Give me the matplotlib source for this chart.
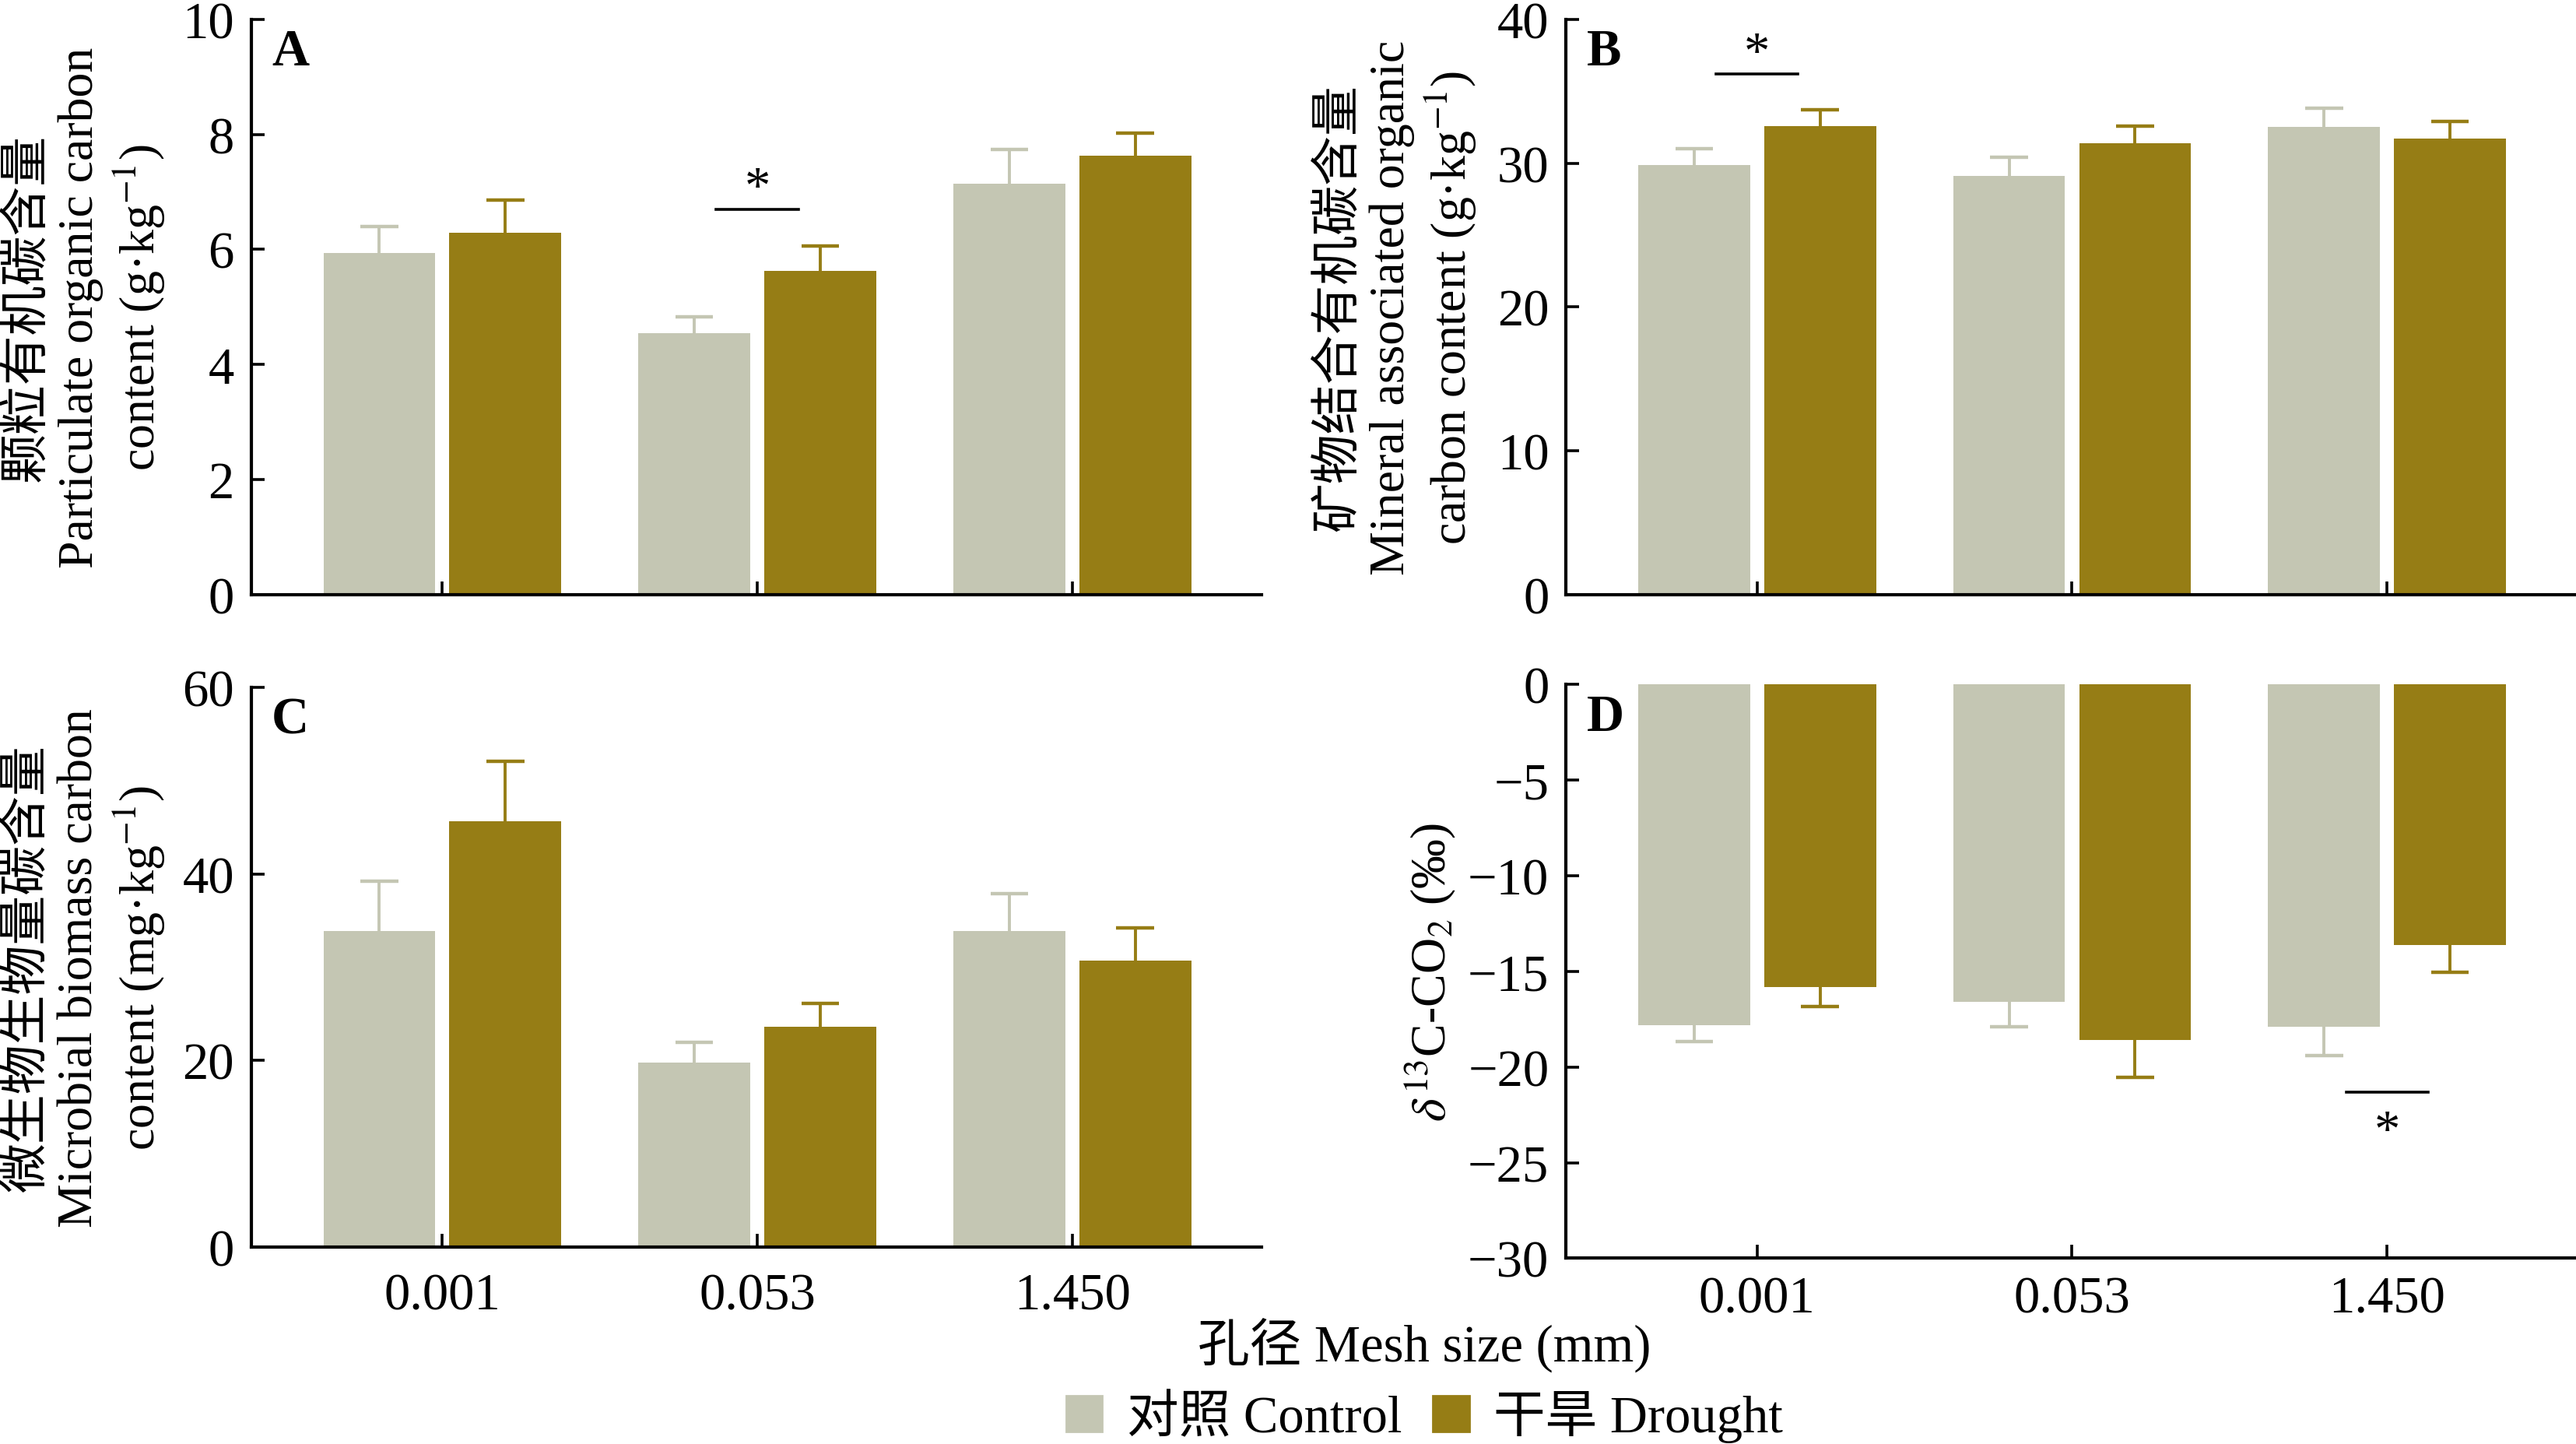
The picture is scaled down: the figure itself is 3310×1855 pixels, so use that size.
import numpy as np
import matplotlib
matplotlib.use('Agg')
import matplotlib.pyplot as plt
from matplotlib.patches import Patch

plt.rcParams['font.family'] = ['Liberation Serif', 'Noto Sans CJK SC', 'DejaVu Sans']
plt.rcParams['mathtext.fontset'] = 'stix'

# data
mesh = ['0.001', '0.053', '1.450']

poc_ctrl = [5.94, 4.54, 7.14]
poc_ctrl_se = [0.46, 0.29, 0.60]
poc_dro = [6.29, 5.63, 7.63]
poc_dro_se = [0.57, 0.43, 0.40]

maoc_ctrl = [29.9, 29.1, 32.5]
maoc_ctrl_se = [1.1, 1.3, 1.3]
maoc_dro = [32.6, 31.4, 31.7]
maoc_dro_se = [1.1, 1.2, 1.2]

mbc_ctrl = [33.9, 19.8, 33.9]
mbc_ctrl_se = [5.3, 2.1, 4.0]
mbc_dro = [45.7, 23.6, 30.7]
mbc_dro_se = [6.4, 2.5, 3.5]

d13c_ctrl = [-17.8, -16.6, -17.9]
d13c_ctrl_se = [0.85, 1.3, 1.5]
d13c_dro = [-15.8, -18.6, -13.6]
d13c_dro_se = [1.05, 1.95, 1.45]

# significant pairs: panel -> (group index, line y, star y)
sig_marks = {'A': (1, 6.69, 7.05), 'B': (0, 36.2, 37.6), 'D': (2, -21.3, -23.4)}

c_ctrl = '#C4C6B3'
c_dro = '#967D15'

fig = plt.figure(figsize=(16.55, 9.28), dpi=200)
ax_a = fig.add_axes([0.0976, 0.588, 0.392, 0.398])
ax_b = fig.add_axes([0.608, 0.588, 0.392, 0.398])
ax_c = fig.add_axes([0.0976, 0.1365, 0.392, 0.387])
ax_d = fig.add_axes([0.608, 0.1286, 0.392, 0.397])

x = np.arange(len(mesh))
w = 0.355
off = 0.2
cap = 0.06


def draw(ax, ctrl, ctrl_se, dro, dro_se, ylim, yticks, letter, ylabel, lab_x, show_x, xpad=8):
    for vals, se, col, dx in [(ctrl, ctrl_se, c_ctrl, -off), (dro, dro_se, c_dro, off)]:
        vals = np.array(vals)
        se = np.array(se)
        ax.bar(x + dx, vals, width=w, color=col, zorder=2)
        # one-sided error bars, away from zero
        ends = vals + np.sign(vals) * se
        ax.vlines(x + dx, vals, ends, color=col, lw=1.4, zorder=1)
        ax.hlines(ends, x + dx - cap, x + dx + cap, color=col, lw=1.6, zorder=1)
    ax.set_xlim(-0.606, 2.60)
    ax.set_ylim(*ylim)
    ax.set_yticks(yticks)
    ax.set_xticks(x)
    if show_x:
        ax.set_xticklabels(mesh)
    else:
        ax.set_xticklabels([])
    for s in ['top', 'right']:
        ax.spines[s].set_visible(False)
    for s in ['left', 'bottom']:
        ax.spines[s].set_linewidth(1.5)
    ax.tick_params(direction='in', length=6, width=1.3, labelsize=24, pad=8)
    ax.tick_params(axis='x', pad=xpad)
    ax.text(0.02, 0.985, letter, transform=ax.transAxes, fontsize=24,
            fontweight='bold', va='top', ha='left')
    ax.set_ylabel(ylabel, fontsize=23, linespacing=1.2, multialignment='center')
    ax.yaxis.label.set_va('center')
    ax.yaxis.set_label_coords(lab_x, 0.5)
    if letter in sig_marks:
        g, ly, sy = sig_marks[letter]
        ax.plot([g - 0.13, g + 0.13], [ly, ly], color='black', lw=1.3)
        ax.text(g, sy, '*', ha='center', va='center', fontsize=24)


draw(ax_a, poc_ctrl, poc_ctrl_se, poc_dro, poc_dro_se, (0, 10), np.arange(0, 11, 2), 'A',
     '颗粒有机碳含量\nParticulate organic carbon\ncontent (g·kg$^{-1}$)', -0.164, False)
draw(ax_b, maoc_ctrl, maoc_ctrl_se, maoc_dro, maoc_dro_se, (0, 40), np.arange(0, 41, 10), 'B',
     '矿物结合有机碳含量\nMineral associated organic\ncarbon content (g·kg$^{-1}$)', -0.167, False)
draw(ax_c, mbc_ctrl, mbc_ctrl_se, mbc_dro, mbc_dro_se, (0, 60), np.arange(0, 61, 20), 'C',
     '微生物生物量碳含量\nMicrobial biomass carbon\ncontent (mg·kg$^{-1}$)', -0.164, True, xpad=12)
draw(ax_d, d13c_ctrl, d13c_ctrl_se, d13c_dro, d13c_dro_se, (-30, 0), np.arange(-30, 1, 5), 'D',
     r'$\delta^{13}$C-CO$_2$ (‰)', -0.135, True)

fig.text(0.553, 0.069, '孔径 Mesh size (mm)', ha='center', va='center', fontsize=24)

handles = [Patch(color=c_ctrl, label='对照 Control'), Patch(color=c_dro, label='干旱 Drought')]
fig.legend(handles=handles, loc='center', bbox_to_anchor=(0.553, 0.019), ncol=2,
           frameon=False, fontsize=24, handlelength=0.7, handleheight=0.7,
           handletextpad=0.47, columnspacing=0.6, borderpad=0)

fig.savefig('out.png', dpi=200)
